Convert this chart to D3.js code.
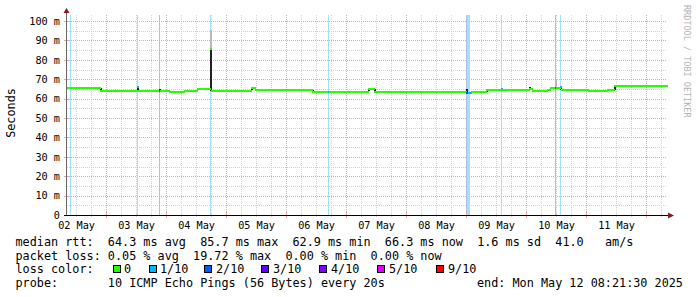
<!DOCTYPE html>
<html>
<head>
<meta charset="utf-8">
<script src="https://cdn.jsdelivr.net/npm/d3@7"></script>
<style>
html, body { margin: 0; padding: 0; background: #fff; }
svg { display: block; }
text { font-family: "DejaVu Sans Mono", monospace; white-space: pre; }
</style>
</head>
<body>
<svg id="chart" width="697" height="297"></svg>
<script>
// graph covers 10 days ending Mon May 12 08:21:30 2025
const START = Date.UTC(2025, 4, 2, 8, 21, 30);
const SPAN_HOURS = 240;

// median rtt in ms as steps: start hour (from graph start), value, loss level of that step
const medianHours = [0, 13.2, 17.2, 22.8, 28.0, 28.4, 36.8, 37.2, 40.8, 46.8, 52.0, 57.2, 57.6, 64.8, 70.8, 73.6, 75.2,
	98.0, 104.4, 104.8, 120.4, 122.8, 159.6, 160.4, 161.6, 167.6, 173.6, 174.0, 184.8, 186.0, 192.0, 193.2, 195.2,
	195.6, 197.2, 197.6, 208.4, 216.0, 218.8];
const medianMs = [65.5, 64.1, 63.8, 64.1, 65.9, 64.1, 64.1, 64.1, 63.6, 64.1, 65.0, 85.7, 64.1, 63.7, 64.1, 65.5, 64.6,
	63.2, 63.2, 63.2, 65.1, 63.2, 62.9, 62.9, 63.2, 64.6, 65.0, 64.6, 65.2, 64.1, 64.6, 65.5, 65.6,
	65.5, 65.9, 64.6, 64.1, 64.6, 66.3];
const medianLoss = [0, 0, 0, 0, 1, 0, 2, 0, 0, 0, 0, 0, 0, 0, 0, 0, 0,
	0, 1, 0, 0, 0, 2, 1, 0, 0, 1, 0, 0, 0, 0, 0, 2,
	0, 1, 0, 0, 0, 0];

// ping spread (smoke) around the median at some steps
const smokeHours = [13.2, 28.0, 36.8, 52.0, 57.2, 57.2, 73.6, 98.0, 120.4, 122.8, 159.6, 167.6, 173.6, 184.8, 192.0, 195.2, 197.2, 218.8];
const smokeLow = [64.1, 63.9, 63.8, 64.3, 64.1, 85.7, 64.5, 63.3, 64.0, 63.0, 63.0, 63.2, 64.5, 64.8, 64.3, 65.5, 64.6, 64.6];
const smokeHigh = [65.5, 66.6, 64.8, 65.4, 85.7, 95.4, 65.7, 64.6, 65.3, 64.8, 65.0, 64.7, 65.5, 65.9, 65.0, 70.0, 66.5, 66.3];
const smokeDense = [1, 1, 1, 1, 1, 0, 1, 1, 1, 1, 1, 1, 1, 1, 1, 0, 1, 1];

// packet loss steps shown as background bars
const lossHours = [1.2, 28.0, 36.8, 57.2, 104.4, 159.6, 160.0, 160.4, 160.8, 173.6, 195.2, 197.2];
const lossLevel = [1, 1, 2, 1, 1, 2, 1, 1, 1, 1, 2, 1];

const yTicks = [0, 10, 20, 30, 40, 50, 60, 70, 80, 90, 100];
const legendLabels = ['0', '1/10', '2/10', '3/10', '4/10', '5/10', '9/10'];

const rttStats = ['64.3', '85.7', '62.9', '66.3'];
const rttSd = '1.6';
const rttAms = '41.0';
const lossStats = ['0.05', '19.72', '0.00', '0.00'];

const LOSS_COLORS = ['#26ff00', '#00b8ff', '#0059ff', '#5e00ff', '#7e00ff', '#dd00ff', '#ff0000'];
const LOSS_BG = { 1: '#a3e0fa', 2: '#aebfea' };
const LEGEND_SQ_X = [113, 149, 204, 261, 319, 377, 436];
const LEGEND_TXT_X = [124, 160, 216, 273, 331, 389, 448];

const PLOT_LEFT = 67, PLOT_RIGHT = 667, PLOT_TOP = 15, PLOT_BOTTOM = 215;
const Y_MAX = 103.1;
const MINOR = '#d2d2d2';
const MAJOR = '#e6a4a4';
const ARROW = '#8b1a1a';
const FONT = '"DejaVu Sans Mono", monospace';

const hourToDate = h => new Date(START + h * 3600e3);
const x = d3.scaleUtc().domain([hourToDate(0), hourToDate(SPAN_HOURS)]).range([PLOT_LEFT, PLOT_RIGHT]);
const y = d3.scaleLinear().domain([0, Y_MAX]).range([PLOT_BOTTOM, PLOT_TOP]);
const px = v => Math.round(v) + 0.5;
const xh = h => x(hourToDate(h));

const svg = d3.select('#chart');
svg.append('rect').attr('width', 697).attr('height', 297).attr('fill', '#fff');

const [t0, t1] = x.domain();

// grid
const grid = svg.append('g').attr('shape-rendering', 'crispEdges').attr('stroke-dasharray', '1,1');
const minorT = d3.utcHour.every(6).range(t0, t1).filter(d => d.getUTCHours() !== 0);
const majorT = d3.utcDay.range(t0, t1);
const minorY = d3.range(5, Y_MAX, 10);
const majorY = yTicks.filter(d => d > 0);

grid.selectAll('.vmin').data(minorT).join('line')
	.attr('x1', d => px(x(d))).attr('x2', d => px(x(d)))
	.attr('y1', PLOT_TOP).attr('y2', PLOT_BOTTOM).attr('stroke', MINOR);
grid.selectAll('.hmin').data(minorY).join('line')
	.attr('x1', PLOT_LEFT).attr('x2', PLOT_RIGHT)
	.attr('y1', d => px(y(d))).attr('y2', d => px(y(d))).attr('stroke', MINOR);
grid.selectAll('.vmaj').data(majorT).join('line')
	.attr('x1', d => px(x(d))).attr('x2', d => px(x(d)))
	.attr('y1', PLOT_TOP).attr('y2', PLOT_BOTTOM).attr('stroke', MAJOR);
grid.selectAll('.hmaj').data(majorY).join('line')
	.attr('x1', PLOT_LEFT).attr('x2', PLOT_RIGHT)
	.attr('y1', d => px(y(d))).attr('y2', d => px(y(d))).attr('stroke', MAJOR);

// loss background
const step = xh(0.4) - xh(0);
svg.append('g').attr('shape-rendering', 'crispEdges')
	.selectAll('rect').data(lossHours).join('rect')
	.attr('x', d => Math.round(xh(d)))
	.attr('width', Math.max(1, Math.round(step)))
	.attr('y', PLOT_TOP).attr('height', PLOT_BOTTOM - PLOT_TOP)
	.attr('fill', (d, i) => LOSS_BG[lossLevel[i]]);

// smoke
svg.append('g').attr('shape-rendering', 'crispEdges')
	.selectAll('rect').data(smokeHours).join('rect')
	.attr('x', d => Math.round(xh(d)))
	.attr('width', 2)
	.attr('y', (d, i) => y(smokeHigh[i]))
	.attr('height', (d, i) => y(smokeLow[i]) - y(smokeHigh[i]))
	.attr('fill', (d, i) => smokeDense[i] ? '#222' : '#b8b8b8');

// median steps
const segEnd = i => i + 1 < medianHours.length ? medianHours[i + 1] : SPAN_HOURS;
svg.append('g').attr('shape-rendering', 'crispEdges')
	.selectAll('line').data(medianHours).join('line')
	.attr('x1', d => Math.round(xh(d)))
	.attr('x2', (d, i) => Math.round(xh(segEnd(i))) + 1)
	.attr('y1', (d, i) => Math.round(y(medianMs[i])))
	.attr('y2', (d, i) => Math.round(y(medianMs[i])))
	.attr('stroke', (d, i) => LOSS_COLORS[medianLoss[i]])
	.attr('stroke-width', 2);

// axis ticks
const ticks = svg.append('g').attr('shape-rendering', 'crispEdges');
ticks.selectAll('.tmin').data(minorT).join('line')
	.attr('x1', d => px(x(d))).attr('x2', d => px(x(d)))
	.attr('y1', PLOT_BOTTOM - 2).attr('y2', PLOT_BOTTOM + 2).attr('stroke', MINOR);
ticks.selectAll('.tmaj').data(majorT).join('line')
	.attr('x1', d => px(x(d))).attr('x2', d => px(x(d)))
	.attr('y1', PLOT_BOTTOM - 3).attr('y2', PLOT_BOTTOM + 3).attr('stroke', MAJOR);
ticks.selectAll('.ymaj').data(majorY).join('line')
	.attr('x1', PLOT_LEFT - 3).attr('x2', PLOT_LEFT + 3)
	.attr('y1', d => px(y(d))).attr('y2', d => px(y(d))).attr('stroke', MAJOR);

// axis labels
const noons = d3.utcDay.range(d3.utcDay.floor(t0), t1)
	.map(d => d3.utcHour.offset(d, 12))
	.filter(d => d >= t0 && d <= t1);

svg.append('g')
	.attr('transform', `translate(0,${PLOT_BOTTOM})`)
	.call(d3.axisBottom(x).tickValues(noons).tickFormat(d3.utcFormat('%d %b')).tickSize(0).tickPadding(6.5))
	.call(g => g.select('.domain').remove())
	.attr('font-family', FONT).attr('font-size', 10.2);

svg.append('g')
	.attr('transform', `translate(${PLOT_LEFT},0)`)
	.call(d3.axisLeft(y).tickValues(yTicks).tickFormat(d => d === 0 ? '0' : `${d} m`).tickSize(0).tickPadding(7))
	.call(g => g.select('.domain').remove())
	.attr('font-family', FONT).attr('font-size', 10.2);

// axis lines + arrows
svg.append('line').attr('x1', PLOT_LEFT - 0.5).attr('x2', PLOT_LEFT - 0.5)
	.attr('y1', PLOT_BOTTOM).attr('y2', 12).attr('stroke', '#6a6a6a').attr('shape-rendering', 'crispEdges');
svg.append('line').attr('x1', PLOT_LEFT - 3).attr('x2', 669)
	.attr('y1', PLOT_BOTTOM + 0.5).attr('y2', PLOT_BOTTOM + 0.5).attr('stroke', '#000').attr('shape-rendering', 'crispEdges');
svg.append('path').attr('d', `M${PLOT_LEFT - 3.5},13 L${PLOT_LEFT - 0.5},8 L${PLOT_LEFT + 2.5},13 Z`).attr('fill', ARROW);
svg.append('path').attr('d', `M668,${PLOT_BOTTOM - 2.5} L674,${PLOT_BOTTOM + 0.5} L668,${PLOT_BOTTOM + 3.5} Z`).attr('fill', ARROW);

// vertical unit label
svg.append('text')
	.attr('transform', `translate(15,113) rotate(-90)`)
	.attr('text-anchor', 'middle')
	.attr('font-size', 11.8)
	.text('Seconds');

// watermark
svg.append('text')
	.attr('transform', `translate(684,5) rotate(90)`)
	.attr('font-size', 8.5)
	.attr('fill', '#b4b4b4')
	.text('RRDTOOL / TOBI OETIKER');

// legend
const legend = svg.append('g').attr('font-size', 11.8).attr('fill', '#000');
const LX = 15.5;
legend.append('text').attr('x', LX).attr('y', 246)
	.text(`median rtt:  ${rttStats[0]} ms avg  ${rttStats[1]} ms max  ${rttStats[2]} ms min  ${rttStats[3]} ms now  ${rttSd} ms sd  ${rttAms}   am/s`);
legend.append('text').attr('x', LX).attr('y', 259.5)
	.text(`packet loss: ${lossStats[0]} % avg  ${lossStats[1]} % max  ${lossStats[2]} % min  ${lossStats[3]} % now`);
legend.append('text').attr('x', LX).attr('y', 273.3).text('loss color:');
legend.selectAll('.sq').data(legendLabels).join('rect')
	.attr('x', (d, i) => LEGEND_SQ_X[i] + 0.5).attr('y', 265.5)
	.attr('width', 7).attr('height', 7)
	.attr('fill', (d, i) => LOSS_COLORS[i]).attr('stroke', '#000').attr('shape-rendering', 'crispEdges');
legend.selectAll('.lb').data(legendLabels).join('text')
	.attr('x', (d, i) => LEGEND_TXT_X[i]).attr('y', 273.3).text(d => d);
legend.append('text').attr('x', LX).attr('y', 287)
	.text('probe:       10 ICMP Echo Pings (56 Bytes) every 20s');
legend.append('text').attr('x', 477).attr('y', 287)
	.text('end: Mon May 12 08:21:30 2025');
</script>
</body>
</html>
